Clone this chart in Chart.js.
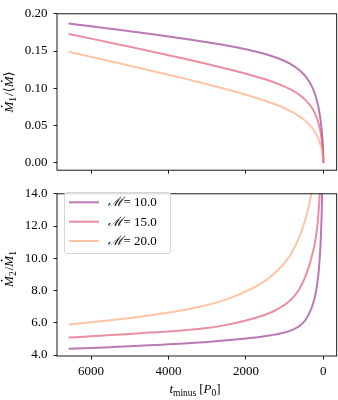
<!DOCTYPE html>
<html>
<head>
<meta charset="utf-8">
<script src="https://cdn.jsdelivr.net/npm/chart.js@4.4.1/dist/chart.umd.min.js"></script>
<style>
body{margin:0;background:#fff;width:338px;height:400px;overflow:hidden;position:relative}
canvas{position:absolute;left:0}
</style>
</head>
<body>
<canvas id="c1" width="338" height="184" style="top:0px;width:338px;height:184px"></canvas>
<canvas id="c2" width="338" height="220" style="top:180px;width:338px;height:220px"></canvas>
<script>
// ---- data ----
const tMinus = [6580, 6000, 5500, 5000, 4500, 4000, 3500, 3000, 2500, 2000, 1600, 1300, 1000, 800, 600, 450, 300, 200, 120, 60, 25, 8, 2, 0];
const seriesLabels = ["10.0", "15.0", "20.0"];
const m1Frac_M10 = [0.187, 0.1833, 0.1800, 0.1767, 0.1733, 0.1697, 0.1659, 0.1619, 0.1575, 0.1524, 0.1474, 0.1427, 0.1367, 0.1312, 0.1236, 0.1154, 0.1029, 0.0897, 0.0730, 0.0527, 0.0331, 0.0173, 0.0076, 0.0];
const m1Frac_M15 = [0.173, 0.1667, 0.1613, 0.1557, 0.1502, 0.1445, 0.1387, 0.1327, 0.1264, 0.1197, 0.1136, 0.1085, 0.1023, 0.0972, 0.0906, 0.0839, 0.0742, 0.0643, 0.0522, 0.0375, 0.0235, 0.0122, 0.0054, 0.0];
const m1Frac_M20 = [0.149, 0.1422, 0.1363, 0.1304, 0.1244, 0.1182, 0.1120, 0.1055, 0.0987, 0.0915, 0.0850, 0.0796, 0.0732, 0.0681, 0.0618, 0.0557, 0.0475, 0.0398, 0.0312, 0.0217, 0.0133, 0.0068, 0.0030, 0.0];
const ratio_M10 = [4.39, 4.44, 4.49, 4.54, 4.60, 4.665, 4.73, 4.81, 4.91, 5.03, 5.14, 5.25, 5.40, 5.56, 5.83, 6.22, 6.95, 7.8, 9.2, 11.6, 15.0, 22.0, 40.0, null];
const ratio_M15 = [5.08, 5.16, 5.235, 5.31, 5.39, 5.465, 5.56, 5.68, 5.87, 6.14, 6.42, 6.70, 7.12, 7.52, 8.18, 8.95, 10.1, 11.2, 13.0, 16.5, 23.0, 35.0, 60.0, null];
const ratio_M20 = [5.90, 6.03, 6.15, 6.29, 6.45, 6.64, 6.84, 7.10, 7.45, 7.95, 8.45, 9.0, 9.72, 10.4, 11.45, 12.55, 14.1, 15.9, 18.5, 23.0, 32.0, 50.0, 90.0, null];
const xTicks = [0, 2000, 4000, 6000];
const yTicksTop = [0.00, 0.05, 0.10, 0.15, 0.20];
const yTicksBottom = [4, 6, 8, 10, 12, 14];

// ---- styling ----
const COLORS = ['rgba(140,41,129,0.62)', 'rgba(222,73,104,0.62)', 'rgba(254,159,109,0.62)'];
const FONT = '"Liberation Serif", "DejaVu Serif", serif';

function pts(ys){ return tMinus.map((t,i)=>({x:t, y:ys[i]})); }
function ds(ys, i){
  return {data: pts(ys), borderColor: COLORS[i], borderWidth: 2, pointRadius: 0,
    fill:false, cubicInterpolationMode:'monotone', order: 3-i};
}

function drawMath(ctx, parts, cx, cy, rot){
  ctx.save();
  ctx.translate(cx, cy);
  if (rot) ctx.rotate(-Math.PI/2);
  ctx.fillStyle = '#000';
  ctx.textBaseline = 'alphabetic';
  ctx.textAlign = 'left';
  const fonts = parts.map(p => (p.it ? 'italic ' : '') + (p.sub ? 9.5 : 13) + 'px ' + FONT);
  let widths = parts.map((p,i)=>{ ctx.font = fonts[i]; return ctx.measureText(p.s).width + (p.gap||0); });
  const total = widths.reduce((a,b)=>a+b,0);
  let x = -total/2;
  parts.forEach((p,i)=>{
    ctx.font = fonts[i];
    const y = p.sub ? 3 : 0;
    ctx.fillText(p.s, x, y);
    if (p.dot){
      ctx.beginPath();
      ctx.arc(x + widths[i]*0.58, -11.3, 0.9, 0, Math.PI*2);
      ctx.fill();
    }
    x += widths[i];
  });
  ctx.restore();
}

const framePlugin = {
  id:'frame',
  afterDraw(chart, args, opts){
    const a = chart.chartArea, ctx = chart.ctx;
    ctx.save();
    ctx.strokeStyle = '#000';
    ctx.lineWidth = 0.9;
    ctx.strokeRect(a.left, a.top, a.right-a.left, a.bottom-a.top);
    ctx.restore();
    if (opts.draw) opts.draw(chart);
  }
};

function baseScales(yMin, yMax, yTicks, yDecimals, showXLabels, xHeight){
  return {
    x: {
      type:'linear', reverse:true, min:-345, max:6880,
      afterBuildTicks: s => { s.ticks = xTicks.map(v=>({value:v})); },
      afterFit: s => { s.height = xHeight; },
      border:{display:false},
      grid:{display:true, drawOnChartArea:false, drawTicks:true, tickLength:3.5, tickColor:'#000', tickWidth:0.9},
      ticks:{display:showXLabels, maxRotation:0, autoSkip:false, padding:4, color:'#000',
        font:{family:FONT, size:13}, callback: v => String(v)}
    },
    y: {
      type:'linear', min:yMin, max:yMax,
      afterBuildTicks: s => { s.ticks = yTicks.map(v=>({value:v})); },
      afterFit: s => { s.width = 57; },
      border:{display:false},
      grid:{display:true, drawOnChartArea:false, drawTicks:true, tickLength:3.5, tickColor:'#000', tickWidth:0.9},
      ticks:{padding:6, color:'#000', font:{family:FONT, size:13}, callback: v => Number(v).toFixed(yDecimals)}
    }
  };
}

Chart.defaults.animation = false;

new Chart(document.getElementById('c1'), {
  type:'line',
  data:{datasets:[ds(m1Frac_M10,0), ds(m1Frac_M15,1), ds(m1Frac_M20,2)]},
  options:{
    responsive:false, animation:false, devicePixelRatio:1,
    layout:{padding:{top:5.7, right:1.3, left:0, bottom:0}},
    plugins:{legend:{display:false}, tooltip:{enabled:false},
      frame:{draw(chart){
        drawMath(chart.ctx, [{s:'M',it:true,dot:true},{s:'1',sub:true,gap:1},{s:'/⟨'},{s:'M',it:true,dot:true},{s:'⟩'}], 13, 92, true);
      }}},
    scales: baseScales(-0.0098, 0.2, yTicksTop, 2, false, 5.7)
  },
  plugins:[framePlugin]
});

new Chart(document.getElementById('c2'), {
  type:'line',
  data:{datasets:[ds(ratio_M10,0), ds(ratio_M15,1), ds(ratio_M20,2)]},
  options:{
    responsive:false, animation:false, devicePixelRatio:1,
    layout:{padding:{top:4.7, right:1.3, left:0, bottom:0}},
    plugins:{legend:{display:false}, tooltip:{enabled:false},
      frame:{draw(chart){
        const ctx = chart.ctx;
        drawMath(ctx, [{s:'M',it:true,dot:true},{s:'2',sub:true,gap:1},{s:'/'},{s:'M',it:true,dot:true},{s:'1',sub:true}], 13, 89, true);
        drawMath(ctx, [{s:'t',it:true},{s:'minus',sub:true,gap:3},{s:'['},{s:'P',it:true},{s:'0',sub:true},{s:']'}], 195, 213, false);
        // legend
        ctx.save();
        const bx=64.5, by=12.5, bw=106, bh=61, r=2.5;
        ctx.beginPath();
        ctx.moveTo(bx+r,by); ctx.lineTo(bx+bw-r,by); ctx.arcTo(bx+bw,by,bx+bw,by+r,r);
        ctx.lineTo(bx+bw,by+bh-r); ctx.arcTo(bx+bw,by+bh,bx+bw-r,by+bh,r);
        ctx.lineTo(bx+r,by+bh); ctx.arcTo(bx,by+bh,bx,by+bh-r,r);
        ctx.lineTo(bx,by+r); ctx.arcTo(bx,by,bx+r,by,r); ctx.closePath();
        ctx.fillStyle='rgba(255,255,255,0.8)'; ctx.fill();
        ctx.strokeStyle='#d6d6d6'; ctx.lineWidth=1; ctx.stroke();
        const rows=[22.3, 41.7, 61];
        seriesLabels.forEach((lab,i)=>{
          ctx.strokeStyle = COLORS[i]; ctx.lineWidth=2;
          ctx.beginPath(); ctx.moveTo(69, rows[i]); ctx.lineTo(99, rows[i]); ctx.stroke();
          ctx.fillStyle='#000'; ctx.textBaseline='middle'; ctx.textAlign='left';
          ctx.font = 'italic 13px ' + FONT;
          ctx.fillText('ℳ', 108, rows[i]+0.5);
          const w = ctx.measureText('ℳ').width;
          ctx.font = '13px ' + FONT;
          ctx.fillText('= ' + lab, 108 + w + 0.5, rows[i]+0.5);
        });
        ctx.restore();
      }}},
    scales: baseScales(3.94, 14, yTicksBottom, 1, true, 44)
  },
  plugins:[framePlugin]
});
</script>
</body>
</html>
